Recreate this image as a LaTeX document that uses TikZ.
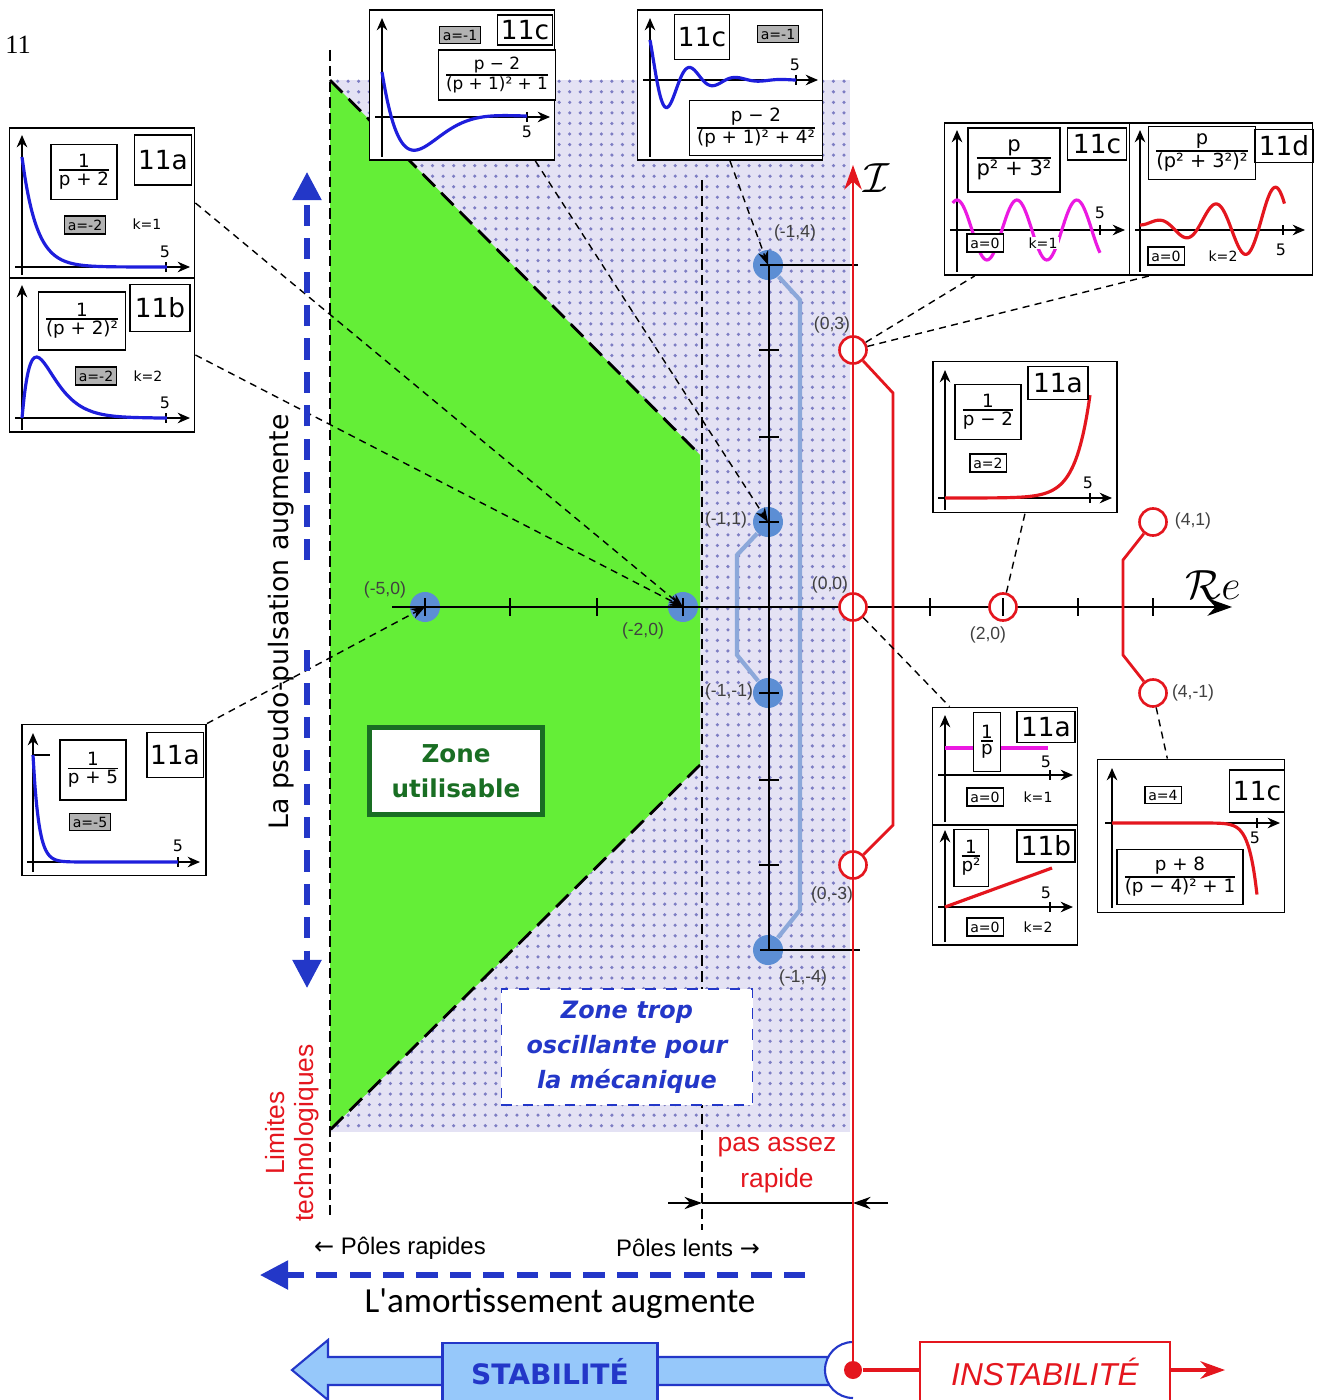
\documentclass[tikz,border=0pt]{standalone}
\usepackage{fontspec}
\setmainfont{Liberation Sans}
\newfontfamily\cfont{DejaVu Sans}
\newfontfamily\gfont{Carlito}
\newfontfamily\rfont{Liberation Serif}
\usetikzlibrary{arrows.meta,patterns}

% couleurs
\definecolor{vert}{RGB}{100,238,55}
\definecolor{vertf}{RGB}{25,110,35}
\definecolor{lav}{RGB}{228,226,244}
\definecolor{lavdot}{RGB}{125,125,195}
\definecolor{bpole}{RGB}{92,142,212}
\definecolor{bchemin}{RGB}{140,168,218}
\definecolor{bstab}{RGB}{150,200,250}
\definecolor{bfonce}{RGB}{35,55,200}
\definecolor{mag}{RGB}{235,25,225}
\definecolor{rouge}{RGB}{228,22,30}
\definecolor{bcourbe}{RGB}{30,30,220}

\newcommand{\fr}[2]{$\frac{\hbox{#1}}{\hbox{#2}}$}
\newcommand{\fs}[1]{\fontsize{#1}{#1}\selectfont}

\tikzset{
  axe/.style={line width=0.5pt,-{Stealth[length=3.5pt,width=3pt]}},
  cadre/.style={draw,line width=0.5pt,fill=white,inner sep=0pt},
  formule/.style={draw,line width=0.4pt,fill=white,inner sep=1pt,font=\cfont\fs{5.2}},
  repere/.style={draw,line width=0.5pt,fill=white,inner sep=1pt,font=\cfont\fs{7.5}},
  agris/.style={draw,line width=0.4pt,fill=black!30,inner sep=1pt,font=\cfont\fs{4}},
  ablanc/.style={draw,line width=0.4pt,fill=white,inner sep=1pt,font=\cfont\fs{4}},
  kval/.style={fill=white,inner sep=0.3pt,font=\cfont\fs{4}},
  cinq/.style={inner sep=0pt,font=\cfont\fs{4.5}},
  courbe/.style={line width=0.9pt,smooth},
  pbleu/.style={circle,fill=bpole,minimum size=0.3cm,inner sep=0pt},
  prouge/.style={circle,draw=rouge,line width=0.75pt,fill=white,minimum size=0.27cm,inner sep=0pt},
  coord/.style={inner sep=0pt,font=\fs{5},text=black!75},
  lien/.style={dash pattern=on 2pt off 1.5pt,line width=0.4pt},
  fleche/.style={lien,-{Stealth[length=4pt,width=3pt]}},
  bdash/.style={bfonce,line width=1.5pt,dash pattern=on 6pt off 3.5pt},
  cote/.style={line width=0.4pt,-{Stealth[length=5pt,width=3.5pt]}},
}

\begin{document}
\begin{tikzpicture}[x=0.01cm,y=-0.01cm]
\useasboundingbox (0,0) rectangle (1321,1400);

\node[font=\rfont\fs{7.5}] (num) at (18,45) {11};

% zone trop oscillante
\fill[lav] (330,80) rectangle (850,1132);
\fill[pattern=dots,pattern color=lavdot] (330,80) rectangle (850,1132);

% zone utilisable
\fill[vert] (330,80) -- (700,455) -- (700,765) -- (330,1130) -- cycle;
\draw[line width=0.8pt,dash pattern=on 5pt off 2.5pt] (330,80) -- (700,455);
\draw[line width=0.8pt,dash pattern=on 5pt off 2.5pt] (700,765) -- (330,1130);
\draw[line width=0.4pt,dash pattern=on 3pt off 1.5pt] (330,50) -- (330,1215);
\draw[line width=0.4pt,dash pattern=on 3pt off 1.5pt] (702,180) -- (702,1230);

% poles stables
\node[pbleu] (pm5) at (425,607) {};
\node[pbleu] (pm2) at (683,607) {};
\node[pbleu] (pa4) at (768,265) {};
\node[pbleu] (pa1) at (768,522) {};
\node[pbleu] (pb1) at (768,693) {};
\node[pbleu] (pb4) at (768,950) {};
\draw[bchemin,line width=1.2pt] (pa4) -- (800,300) -- (800,910) -- (pb4);
\draw[bchemin,line width=1.2pt] (pa1) -- (737,555) -- (737,655) -- (pb1);

% axes
\draw[line width=0.5pt,-{Stealth[length=7pt,width=5pt]}] (392,607) -- (1232,607);
\draw[line width=0.5pt] (769,265) -- (769,950);
\draw[line width=0.5pt] (760,265) -- (858,265);
\draw[line width=0.5pt] (760,950) -- (860,950);

% poles instables
\node[prouge] (z03) at (853,350) {};
\node[prouge] (z00) at (853,607) {};
\node[prouge] (zm3) at (853,865) {};
\node[prouge] (z20) at (1003,607) {};
\node[prouge] (z41) at (1153,522) {};
\node[prouge] (z4m) at (1153,693) {};
\draw[rouge,line width=0.8pt] (z03) -- (893,393) -- (893,825) -- (zm3);
\draw[rouge,line width=0.8pt] (z41) -- (1123,560) -- (1123,655) -- (z4m);

\foreach \t in {425,510,597,683,769,853,930,1003,1078,1153}
  \draw[line width=0.5pt] (\t,598) -- (\t,616);
\foreach \t in {350,437,522,693,780,865}
  \draw[line width=0.5pt] (759,\t) -- (779,\t);

\node[coord] (l1) at (795,233) {(-1,4)};
\node[coord] (l2) at (832,325) {(0,3)};
\node[coord] (l3) at (726,520) {(-1,1)};
\node[coord] (l4) at (830,585) {(0,0)};
\node[coord] (l5) at (385,590) {(-5,0)};
\node[coord] (l6) at (643,631) {(-2,0)};
\node[coord] (l7) at (729,692) {(-1,-1)};
\node[coord] (l8) at (832,895) {(0,-3)};
\node[coord] (l9) at (803,978) {(-1,-4)};
\node[coord] (l10) at (988,635) {(2,0)};
\node[coord] (l11) at (1193,521) {(4,1)};
\node[coord] (l12) at (1193,693) {(4,-1)};
\node[font=\fs{12}] (re) at (1213,585) {$\mathcal{R}e$};
\node[font=\fs{12}] (im) at (877,178) {$\mathcal{I}$};

% 11a : 1/(p+2)
\node[cadre,minimum width=1.85cm,minimum height=1.5cm] (bA) at (102,203) {};
\draw[axe] (22,275) -- (22,135);
\draw[axe] (15,267) -- (190,267);
\draw (166,262) -- (166,272);
\node[cinq] (bA5) at (165,252) {5};
\draw[courbe,bcourbe] plot[domain=0:5,samples=60] ({22+29*\x},{267-110*exp(-2*\x)});
\node[formule,minimum width=0.62cm,minimum height=0.55cm] (bAf) at (84,172) {\fr{1}{p + 2}};
\node[repere,minimum width=0.57cm,minimum height=0.5cm] (bAr) at (163,160) {11a};
\node[agris] (bAa) at (85,225) {a=-2};
\node[kval] (bAk) at (147,224) {k=1};

% 11b : 1/(p+2)^2
\node[cadre,minimum width=1.85cm,minimum height=1.54cm] (bB) at (102,355) {};
\draw[axe] (22,430) -- (22,285);
\draw[axe] (15,418) -- (190,418);
\draw (166,413) -- (166,423);
\node[cinq] (bB5) at (165,403) {5};
\draw[courbe,bcourbe] plot[domain=0:5,samples=60] ({22+29*\x},{418-332*\x*exp(-2*\x)});
\node[formule,minimum width=0.8cm,minimum height=0.58cm] (bBf) at (82,321) {\fr{1}{(p + 2)²}};
\node[repere,minimum width=0.6cm,minimum height=0.47cm] (bBr) at (160,308) {11b};
\node[agris] (bBa) at (96,376) {a=-2};
\node[kval] (bBk) at (148,376) {k=2};

% 11a : 1/(p+5)
\node[cadre,minimum width=1.84cm,minimum height=1.51cm] (b8) at (114,800) {};
\draw[axe] (33,872) -- (33,733);
\draw[axe] (27,862) -- (200,862);
\draw (178,857) -- (178,867);
\draw (33,755) -- (50,755);
\node[cinq] (b85) at (178,846) {5};
\draw[courbe,bcourbe] plot[domain=0:5,samples=80] ({33+29*\x},{862-107*exp(-5*\x)});
\node[formule,minimum width=0.62cm,minimum height=0.6cm] (b8f) at (93,770) {\fr{1}{p + 5}};
\node[repere,minimum width=0.56cm,minimum height=0.45cm] (b8r) at (175,755) {11a};
\node[agris] (b8a) at (90,822) {a=-5};

% 11c : (p-2)/((p+1)^2+1)
\node[cadre,minimum width=1.85cm,minimum height=1.5cm] (t1) at (462,85) {};
\draw[axe] (382,157) -- (382,18);
\draw[axe] (375,117) -- (550,117);
\draw (527,112) -- (527,122);
\node[cinq] (t15) at (527,132) {5};
\draw[courbe,bcourbe] plot[domain=0:5,samples=80] ({382+29*\x},{117-45*exp(-\x)*(cos(\x r)-3*sin(\x r))});
\node[agris] (t1a) at (460,35) {a=-1};
\node[repere,minimum width=0.54cm,minimum height=0.3cm] (t1r) at (525,30) {11c};
\node[formule,font=\cfont\fs{4.8},minimum width=1.05cm,minimum height=0.5cm] (t1f) at (497,75) {\fr{p − 2}{(p + 1)² + 1}};

% 11c : (p-2)/((p+1)^2+4^2)
\node[cadre,minimum width=1.85cm,minimum height=1.5cm] (t2) at (730,85) {};
\draw[axe] (650,157) -- (650,18);
\draw[axe] (643,80) -- (818,80);
\draw (796,75) -- (796,85);
\node[cinq] (t25) at (795,65) {5};
\draw[courbe,bcourbe] plot[domain=0:5,samples=120] ({650+29.2*\x},{80-40*exp(-\x)*(cos(4*\x r)-0.75*sin(4*\x r))});
\node[repere,minimum width=0.45cm,minimum height=0.45cm] (t2r) at (702,37) {11c};
\node[agris] (t2a) at (778,34) {a=-1};
\node[formule,minimum width=1.23cm,minimum height=0.55cm] (t2f) at (756,128) {\fr{p − 2}{(p + 1)² + 4²}};

% 11c : p/(p^2+3^2)
\node[cadre,minimum width=1.85cm,minimum height=1.52cm] (b4) at (1037,199) {};
\draw[axe] (957,272) -- (957,130);
\draw[axe] (950,230) -- (1125,230);
\draw (1100,225) -- (1100,235);
\node[cinq] (b45) at (1100,213) {5};
\draw[courbe,mag] plot[domain=-0.15:5,samples=100] ({957+28.6*\x},{230-30*cos(3*\x r)});
\node[formule,font=\cfont\fs{6},minimum width=0.92cm,minimum height=0.64cm] (b4f) at (1014,160) {\fr{p}{p² + 3²}};
\node[repere,minimum width=0.59cm,minimum height=0.32cm] (b4r) at (1097,144) {11c};
\node[ablanc] (b4a) at (985,243) {a=0};
\node[kval] (b4k) at (1043,243) {k=1};

% 11d : p/(p^2+3^2)^2
\node[cadre,minimum width=1.83cm,minimum height=1.52cm] (b4d) at (1221,199) {};
\draw[axe] (1140,272) -- (1140,130);
\draw[axe] (1135,230) -- (1305,230);
\draw (1283,225) -- (1283,235);
\node[cinq] (b4d5) at (1281,250) {5};
\draw[courbe,rouge] plot[domain=0:5.05,samples=100] ({1140+28.6*\x},{225-8*\x*sin(3*\x r)});
\node[formule,font=\cfont\fs{5.5},minimum width=1.05cm,minimum height=0.53cm] (b4df) at (1202,153) {\fr{p}{(p² + 3²)²}};
\node[repere,minimum width=0.52cm,minimum height=0.33cm] (b4dr) at (1284,146) {11d};
\node[ablanc] (b4da) at (1166,256) {a=0};
\node[kval] (b4dk) at (1223,256) {k=2};

% 11a : 1/(p-2)
\node[cadre,minimum width=1.84cm,minimum height=1.51cm] (b5) at (1025,437) {};
\draw[axe] (945,510) -- (945,370);
\draw[axe] (938,498) -- (1112,498);
\draw (1090,493) -- (1090,503);
\node[cinq] (b55) at (1088,483) {5};
\draw[courbe,rouge] plot[domain=0:5,samples=80] ({945+29*\x},{498-103*exp(2*(\x-5))});
\node[formule,minimum width=0.53cm,minimum height=0.55cm] (b5f) at (988,412) {\fr{1}{p − 2}};
\node[repere,minimum width=0.6cm,minimum height=0.33cm] (b5r) at (1058,383) {11a};
\node[ablanc] (b5a) at (988,463) {a=2};

% 11a : 1/p
\node[cadre,minimum width=1.45cm,minimum height=1.17cm] (b6) at (1005,766) {};
\draw[axe] (945,822) -- (945,715);
\draw[axe] (938,775) -- (1073,775);
\draw (1050,770) -- (1050,780);
\node[cinq] (b65) at (1046,762) {5};
\draw[courbe,mag] (945,748) -- (1048,748);
\node[formule,minimum width=0.25cm,minimum height=0.59cm] (b6f) at (987,742) {\fr{1}{p}};
\node[repere,minimum width=0.58cm,minimum height=0.31cm] (b6r) at (1046,727) {11a};
\node[ablanc] (b6a) at (985,797) {a=0};
\node[kval] (b6k) at (1038,797) {k=1};

% 11b : 1/p^2
\node[cadre,minimum width=1.45cm,minimum height=1.2cm] (b6b) at (1005,885) {};
\draw[axe] (945,942) -- (945,830);
\draw[axe] (938,907) -- (1073,907);
\draw (1050,902) -- (1050,912);
\node[cinq] (b6b5) at (1046,893) {5};
\draw[courbe,rouge] (945,907) -- (1052,868);
\node[formule,minimum width=0.33cm,minimum height=0.57cm] (b6bf) at (971,858) {\fr{1}{p²}};
\node[repere,minimum width=0.58cm,minimum height=0.32cm] (b6br) at (1046,846) {11b};
\node[ablanc] (b6ba) at (985,927) {a=0};
\node[kval] (b6bk) at (1038,927) {k=2};

% 11c : (p+8)/((p-4)^2+1)
\node[cadre,minimum width=1.87cm,minimum height=1.53cm] (b7) at (1191,836) {};
\draw[axe] (1112,908) -- (1112,768);
\draw[axe] (1105,823) -- (1280,823);
\draw (1257,818) -- (1257,828);
\node[cinq] (b75) at (1255,838) {5};
\draw[courbe,rouge] plot[domain=0:5,samples=120] ({1112+29*\x},{823-6.4*exp(4*(\x-5))*(cos(\x r)+12*sin(\x r))});
\node[ablanc] (b7a) at (1163,795) {a=4};
\node[repere,minimum width=0.49cm,minimum height=0.42cm] (b7r) at (1257,791) {11c};
\node[formule,minimum width=1.2cm,minimum height=0.55cm] (b7f) at (1180,877) {\fr{p + 8}{(p − 4)² + 1}};

% liens
\draw[fleche] (bA.east) -- (pm2.center);
\draw[fleche] (bB.east) -- (pm2.center);
\draw[fleche] (b8.north east) -- (pm5.center);
\draw[fleche] (t1.-46) -- (pa1.center);
\draw[fleche] (t2.south) -- (pa4.center);
\draw[lien] (z03) -- (b4.-129);
\draw[lien] (z03) -- (b4d.-133);
\draw[lien] (z20) -- (b5.south);
\draw[lien] (z00) -- (b6.133);
\draw[lien] (z4m) -- (b7.107);

% fleches bleues et textes
\draw[bdash,-{Triangle[length=8pt,width=8pt]}] (307,560) -- (307,172);
\draw[bdash,-{Triangle[length=8pt,width=8pt]}] (307,650) -- (307,988);
\draw[bdash,-{Triangle[length=8pt,width=8pt]}] (805,1275) -- (260,1275);
\node[rotate=90,font=\cfont\fs{7.6}] (pp) at (281,622) {La pseudo-pulsation augmente};
\node[rotate=90,text=rouge,font=\fs{7.5}] (lim1) at (275,1133) {Limites};
\node[rotate=90,text=rouge,font=\fs{7.5}] (lim2) at (307,1133) {technologiques};

\node[draw=vertf,line width=1.4pt,fill=white,minimum width=1.73cm,minimum height=0.87cm,align=center,text=vertf,font=\cfont\bfseries\fontsize{7}{10}\selectfont] (zu) at (456,771) {Zone\\utilisable};
\node[draw=bfonce,dashed,line width=0.5pt,fill=white,minimum width=2.51cm,minimum height=1.15cm,align=center,text=bfonce,font=\cfont\bfseries\itshape\fontsize{6.8}{10}\selectfont] (zt) at (627,1047) {Zone trop\\oscillante pour\\la mécanique};

\node[text=rouge,font=\fs{7.5}] (pas1) at (777,1147) {pas assez};
\node[text=rouge,font=\fs{7.5}] (pas2) at (777,1181) {rapide};
\coordinate (d1) at (668,1203);
\coordinate (d2) at (702,1203);
\coordinate (d3) at (853,1203);
\coordinate (d4) at (888,1203);
\draw[cote] (d1) -- (d2);
\draw[line width=0.4pt] (d2) -- (d3);
\draw[cote] (d4) -- (d3);

\node[font=\fs{6.8}] (prap) at (400,1248) {{\cfont ←} Pôles rapides};
\node[font=\fs{6.8}] (plen) at (688,1248) {Pôles lents {\cfont →}};
\node[font=\gfont\fs{10}] (amort) at (560,1303) {L'amortissement augmente};

% stabilite / instabilite
\fill[bstab,draw=bfonce,line width=0.6pt] (840,1357) -- (328,1357) -- (328,1340) -- (292,1370) -- (328,1400) -- (328,1385) -- (840,1385) -- cycle;
\fill[white] (853,1342) arc[start angle=-90,end angle=-270,radius=28] -- cycle;
\draw[bfonce,line width=0.6pt] (853,1342) arc[start angle=-90,end angle=-270,radius=28];
\node[draw=bfonce,fill=bstab,line width=0.8pt,minimum width=2.15cm,minimum height=0.58cm,text=bfonce,font=\cfont\bfseries\fs{8}] (stab) at (550,1372) {STABILITÉ};
\coordinate (o) at (853,1370);
\coordinate (itop) at (853,165);
\coordinate (rfin) at (1225,1370);
\draw[rouge,line width=0.4pt,-{Stealth[length=7pt,width=5pt]}] (o) -- (itop);
\node[circle,fill=rouge,minimum size=0.18cm,inner sep=0pt] (rd) at (o) {};
\draw[rouge,line width=1pt,-{Stealth[length=7pt,width=5pt]}] (rd) -- (rfin);
\node[draw=rouge,fill=white,line width=0.8pt,minimum width=2.5cm,minimum height=0.6cm,text=rouge,font=\itshape\fs{9}] (inst) at (1045,1372) {INSTABILITÉ};
\end{tikzpicture}
\end{document}
